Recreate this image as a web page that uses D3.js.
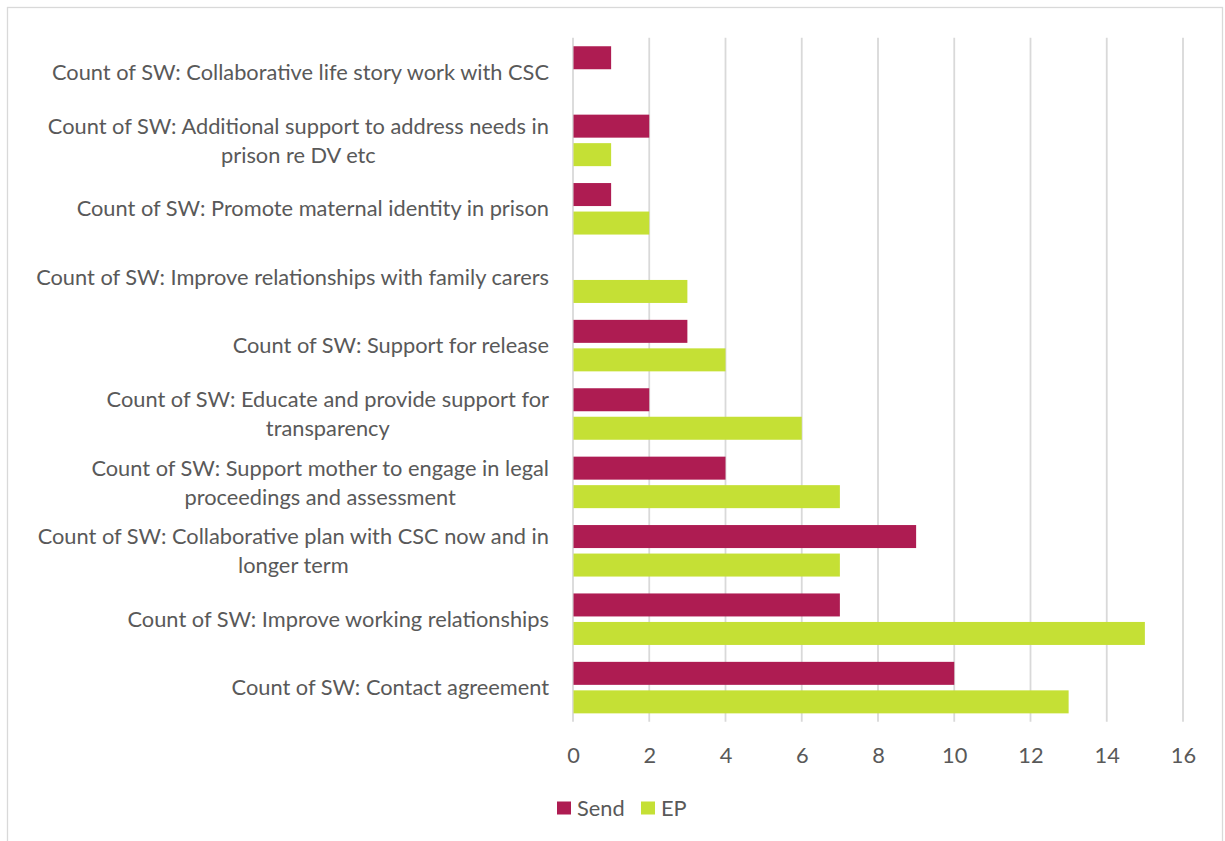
<!DOCTYPE html>
<html><head><meta charset="utf-8">
<script src="https://cdn.jsdelivr.net/npm/d3@7"></script>
<style>
html,body{margin:0;padding:0;background:#fff;}
svg{display:block;font-family:Lato,"Open Sans",sans-serif;}
</style></head>
<body>
<script>
const categories = [
  ["Count of SW: Collaborative life story work with CSC"],
  ["Count of SW: Additional support to address needs in", "prison re DV etc"],
  ["Count of SW: Promote maternal identity in prison"],
  ["Count of SW: Improve relationships with family carers"],
  ["Count of SW: Support for release"],
  ["Count of SW: Educate and provide support for", "transparency"],
  ["Count of SW: Support mother to engage in legal", "proceedings and assessment"],
  ["Count of SW: Collaborative plan with CSC now and in", "longer term"],
  ["Count of SW: Improve working relationships"],
  ["Count of SW: Contact agreement"]
];
const seriesNames = ["Send", "EP"];
const sendValues = [1, 2, 1, 0, 3, 2, 4, 9, 7, 10];
const epValues   = [0, 1, 2, 3, 4, 6, 7, 7, 15, 13];
const xTicks = [0, 2, 4, 6, 8, 10, 12, 14, 16];
const colors = {Send: "#ae1c52", EP: "#c5e035"};

(function(){
const W = 1225, H = 841, FS = 21.8;
const svg = d3.select("body").append("svg").attr("width", W).attr("height", H);

svg.append("rect").attr("x", 7.5).attr("y", 7.5).attr("width", 1215).attr("height", 845)
  .attr("fill", "#fff").attr("stroke", "#d9d9d9").attr("stroke-width", 1.3);

const pLeft = 573, pRight = 1183, pTop = 37.8, pBottom = 721.8;
const x = d3.scaleLinear().domain([0, 16]).range([pLeft, pRight]);
const catIdx = categories.map((c, i) => i);
const y = d3.scaleBand().domain(catIdx).range([pTop, pBottom]).padding(0);
const ys = d3.scaleBand().domain(seriesNames).range([0, y.bandwidth()])
  .paddingInner(0.193).paddingOuter(0.2965);

svg.append("g").selectAll("line").data(xTicks).join("line")
  .attr("x1", d => x(d)).attr("x2", d => x(d))
  .attr("y1", pTop).attr("y2", pBottom)
  .attr("stroke", "#d9d9d9").attr("stroke-width", 1.8);

const data = catIdx.map(i => ({i, Send: sendValues[i], EP: epValues[i]}));
const groups = svg.append("g").selectAll("g").data(data).join("g")
  .attr("transform", d => `translate(0,${y(d.i)})`);
groups.selectAll("rect").data(d => seriesNames.map(s => ({s, v: d[s]})).filter(e => e.v > 0)).join("rect")
  .attr("x", x(0) + 0.5)
  .attr("y", e => ys(e.s))
  .attr("width", e => x(e.v) - x(0) - 0.5)
  .attr("height", ys.bandwidth())
  .attr("fill", e => colors[e.s]);

const labelRight = 549, lh = 29;
catIdx.forEach(i => {
  const lines = categories[i];
  const cy = y(i) + y.bandwidth() / 2;
  const g = svg.append("g");
  const texts = lines.map((ln, k) => g.append("text")
    .attr("y", cy + (k - (lines.length - 1) / 2) * lh)
    .attr("dy", "0.35em")
    .attr("font-size", FS).attr("fill", "#595959")
    .attr("text-anchor", "middle")
    .text(ln));
  const maxW = d3.max(texts, t => t.node().getComputedTextLength());
  texts.forEach(t => t.attr("x", labelRight - maxW / 2));
});

const xAxis = d3.axisBottom(x).tickValues(xTicks).tickSize(0).tickPadding(0);
const ax = svg.append("g").attr("transform", `translate(0,${755})`).call(xAxis);
ax.select(".domain").remove();
ax.selectAll("text").attr("font-size", FS).attr("fill", "#595959")
  .attr("font-family", "Lato, 'Open Sans', sans-serif").attr("dy", "0.35em").attr("y", 0);

const leg = svg.append("g").attr("transform", "translate(557,808)");
const legX = [0, 84];
seriesNames.forEach((s, k) => {
  leg.append("rect").attr("x", legX[k]).attr("y", -6.5).attr("width", 14).attr("height", 13).attr("fill", colors[s]);
  leg.append("text").attr("x", legX[k] + 20).attr("y", 0).attr("dy", "0.35em")
    .attr("font-size", FS).attr("fill", "#595959").text(s);
});
})();
</script>
</body></html>
